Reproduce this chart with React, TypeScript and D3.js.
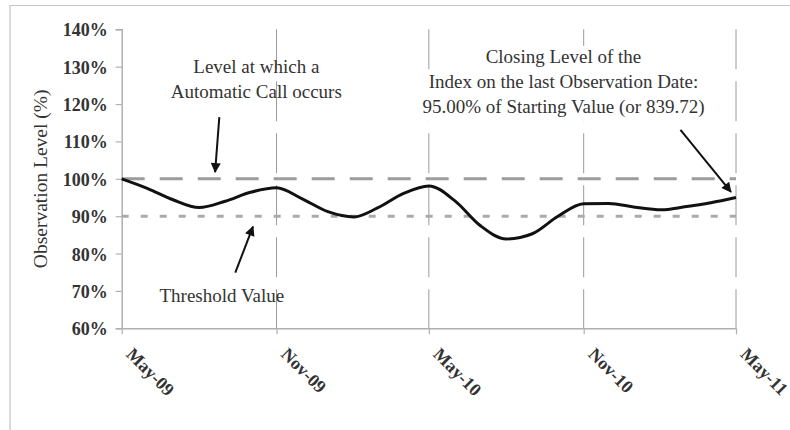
import React, { useEffect, useRef } from "react";
import * as d3 from "d3";

const WIDTH = 790;
const HEIGHT = 430;
const FONT = "'Liberation Serif', 'Times New Roman', serif";
const TEXT = "#333";

// monthly observation levels, May-09 .. May-11
const months = [
  "2009-05", "2009-06", "2009-07", "2009-08", "2009-09", "2009-10", "2009-11",
  "2009-12", "2010-01", "2010-02", "2010-03", "2010-04", "2010-05", "2010-06",
  "2010-07", "2010-08", "2010-09", "2010-10", "2010-11", "2010-12", "2011-01",
  "2011-02", "2011-03", "2011-04", "2011-05",
];
const levels = [
  100, 97.4, 94.4, 92.3, 94.0, 96.4, 97.6, 94.7, 91.2, 89.8, 92.2, 96.1, 98.1,
  94.1, 87.5, 83.9, 85.3, 89.9, 93.3, 93.4, 92.4, 91.7, 92.5, 93.6, 95.0,
];

const tickMonths = ["2009-05", "2009-11", "2010-05", "2010-11", "2011-05"];
const tickLabels = ["May-09", "Nov-09", "May-10", "Nov-10", "May-11"];
const yTicks = [60, 70, 80, 90, 100, 110, 120, 130, 140];

const CALL_LEVEL = 100;
const THRESHOLD = 90;

// annotations, placed in data units (date, %)
const callText = ["Level at which a", "Automatic Call occurs"];
const callTextAt = { date: "2009-10-08", levels: [128.3, 121.6] };
const callArrow = { from: ["2009-08-25", 116.5], to: ["2009-08-20", 101.8] };

const thresholdText = ["Threshold Value"];
const thresholdTextAt = { date: "2009-08-28", levels: [67.0] };
const thresholdArrow = { from: ["2009-09-13", 74.9], to: ["2009-10-04", 87.2] };

const closingText = [
  "Closing Level of the",
  "Index on the last Observation Date:",
  "95.00% of Starting Value (or 839.72)",
];
const closingTextAt = { date: "2010-10-08", levels: [131.0, 124.3, 117.6] };
const closingArrow = { from: ["2011-02-24", 113.1], to: ["2011-04-25", 96.5] };

const parseMonth = d3.timeParse("%Y-%m")!;
const parseDay = d3.timeParse("%Y-%m-%d")!;

export default function App() {
  const ref = useRef<SVGSVGElement>(null);

  useEffect(() => {
    if (!ref.current) return;
    const svg = d3.select(ref.current);
    svg.selectAll("*").remove();

    const x = d3
      .scaleTime()
      .domain([parseMonth(months[0])!, parseMonth(months[months.length - 1])!])
      .range([121.7, 736]);
    const y = d3.scaleLinear().domain([60, 140]).range([328.3, 29.3]);

    // outer frame (top + left edges)
    svg
      .append("path")
      .attr("d", `M10,${HEIGHT} L10,5.5 L${WIDTH},5.5`)
      .attr("fill", "none")
      .attr("stroke", "#c4c4c4")
      .attr("stroke-width", 1.2);

    svg
      .append("defs")
      .append("marker")
      .attr("id", "arrowhead")
      .attr("viewBox", "0 0 10 10")
      .attr("refX", 9)
      .attr("refY", 5)
      .attr("markerWidth", 5.5)
      .attr("markerHeight", 5)
      .attr("orient", "auto")
      .attr("markerUnits", "strokeWidth")
      .append("path")
      .attr("d", "M0,0 L10,5 L0,10 Z")
      .attr("fill", "#111");

    // vertical gridlines
    svg
      .append("g")
      .selectAll("line")
      .data(tickMonths.slice(1))
      .enter()
      .append("line")
      .attr("x1", (d) => x(parseMonth(d)!))
      .attr("x2", (d) => x(parseMonth(d)!))
      .attr("y1", y(140))
      .attr("y2", y(60))
      .attr("stroke", "#9a9a9a")
      .attr("stroke-width", 1)
      .attr("stroke-dasharray", "40,12");

    // y axis
    const yAxis = svg
      .append("g")
      .attr("transform", `translate(${x.range()[0]},0)`)
      .call(
        d3
          .axisLeft(y)
          .tickValues(yTicks)
          .tickSize(6)
          .tickPadding(8)
          .tickFormat((d) => `${d}%`)
      );
    yAxis.select(".domain").attr("stroke", "#b0b0b0").attr("stroke-width", 1.5);
    yAxis.selectAll(".tick line").attr("stroke", "#b0b0b0").attr("stroke-width", 1.2);
    yAxis
      .selectAll(".tick text")
      .attr("fill", TEXT)
      .attr("font-family", FONT)
      .attr("font-size", 18)
      .attr("font-weight", "bold")
      .attr("dy", "0.36em");

    // x axis
    const xAxis = svg
      .append("g")
      .attr("transform", `translate(0,${y(60)})`)
      .call(
        d3
          .axisBottom(x)
          .tickValues(tickMonths.map((d) => parseMonth(d)!))
          .tickSize(6)
          .tickSizeOuter(0)
          .tickFormat((_, i) => tickLabels[i])
      );
    xAxis.select(".domain").attr("stroke", "#b0b0b0").attr("stroke-width", 1.5);
    xAxis.selectAll(".tick line").attr("stroke", "#b0b0b0").attr("stroke-width", 1.2);
    xAxis
      .selectAll(".tick text")
      .attr("fill", TEXT)
      .attr("font-family", FONT)
      .attr("font-size", 18)
      .attr("font-weight", "bold")
      .attr("text-anchor", "start")
      .attr("dy", 0)
      .attr("y", 0)
      .attr("transform", "translate(3,27) rotate(45)");

    // y axis title
    svg
      .append("text")
      .attr("transform", `translate(47,${y(100)}) rotate(-90)`)
      .attr("text-anchor", "middle")
      .attr("font-family", FONT)
      .attr("font-size", 19.5)
      .attr("fill", TEXT)
      .text("Observation Level (%)");

    // call level and threshold lines
    svg
      .append("line")
      .attr("x1", x.range()[0])
      .attr("x2", x.range()[1])
      .attr("y1", y(CALL_LEVEL))
      .attr("y2", y(CALL_LEVEL))
      .attr("stroke", "#9c9c9c")
      .attr("stroke-width", 3)
      .attr("stroke-dasharray", "23,15");
    svg
      .append("line")
      .attr("x1", x.range()[0])
      .attr("x2", x.range()[1])
      .attr("y1", y(THRESHOLD))
      .attr("y2", y(THRESHOLD))
      .attr("stroke", "#aaaaaa")
      .attr("stroke-width", 3)
      .attr("stroke-dasharray", "7,12");

    // observation line
    const line = d3
      .line<number>()
      .x((_, i) => x(parseMonth(months[i])!))
      .y((d) => y(d))
      .curve(d3.curveMonotoneX);
    svg
      .append("path")
      .attr("d", line(levels)!)
      .attr("fill", "none")
      .attr("stroke", "#111")
      .attr("stroke-width", 3);

    // annotations
    const addText = (
      lines: string[],
      at: { date: string; levels: number[] },
      background: boolean
    ) => {
      const g = svg.append("g");
      lines.forEach((t, i) => {
        const tx = x(parseDay(at.date)!);
        const ty = y(at.levels[i]);
        const node = g
          .append("text")
          .attr("x", tx)
          .attr("y", ty)
          .attr("text-anchor", "middle")
          .attr("font-family", FONT)
          .attr("font-size", 19)
          .attr("fill", TEXT)
          .text(t);
        if (background) {
          const box = (node.node() as SVGTextElement).getBBox();
          g.insert("rect", "text")
            .attr("x", box.x - 2)
            .attr("y", ty - 17)
            .attr("width", box.width + 4)
            .attr("height", 25)
            .attr("fill", "#fff");
        }
      });
    };
    const addArrow = (a: { from: (string | number)[]; to: (string | number)[] }) => {
      svg
        .append("line")
        .attr("x1", x(parseDay(a.from[0] as string)!))
        .attr("y1", y(a.from[1] as number))
        .attr("x2", x(parseDay(a.to[0] as string)!))
        .attr("y2", y(a.to[1] as number))
        .attr("stroke", "#111")
        .attr("stroke-width", 2)
        .attr("marker-end", "url(#arrowhead)");
    };

    addText(callText, callTextAt, false);
    addText(thresholdText, thresholdTextAt, false);
    addText(closingText, closingTextAt, true);
    addArrow(callArrow);
    addArrow(thresholdArrow);
    addArrow(closingArrow);
  }, []);

  return (
    <svg
      ref={ref}
      width={WIDTH}
      height={HEIGHT}
      style={{ position: "absolute", left: 0, top: 0, background: "#fff" }}
    />
  );
}
